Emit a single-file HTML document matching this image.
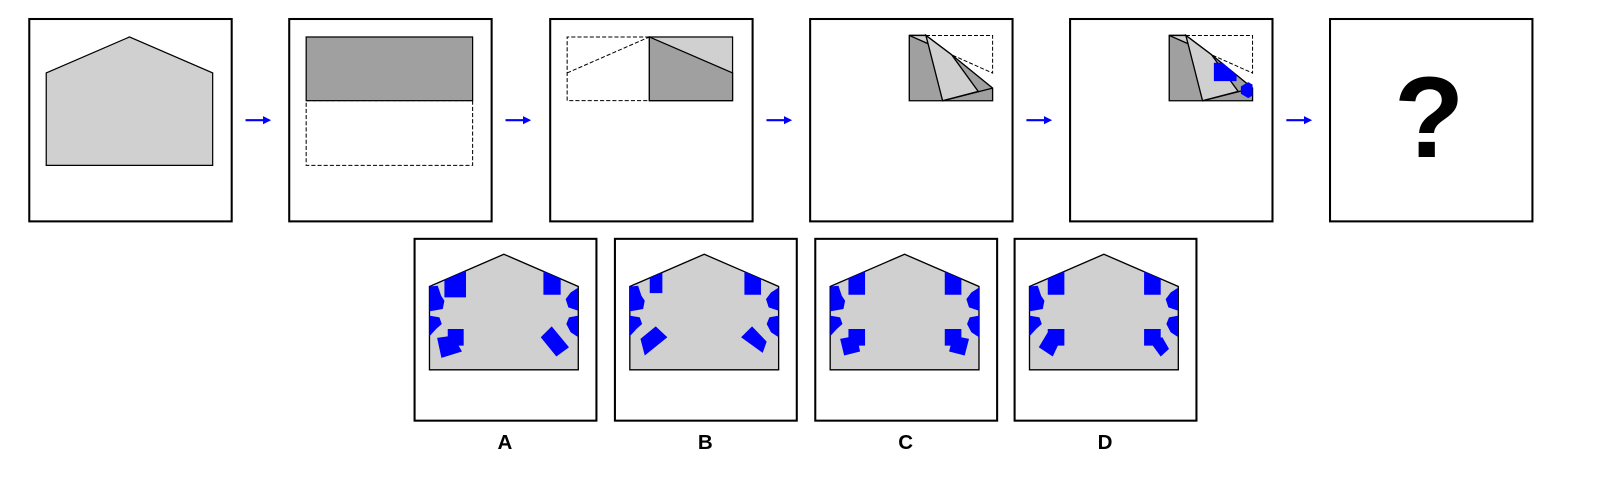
<!DOCTYPE html>
<html><head><meta charset="utf-8"><style>
html,body{margin:0;padding:0;background:#fff;}
svg{display:block;}
text{font-family:"Liberation Sans",Arial,sans-serif;}
</style></head><body>
<svg id="chart" width="1610" height="490" viewBox="0 0 1567 477" preserveAspectRatio="none" xmlns="http://www.w3.org/2000/svg">
<defs>
  <clipPath id="houseClip"><polygon points="0,97 224,0 448,97 448,348 0,348"/></clipPath>
  <clipPath id="lightClip"><polygon points="438,47 515,105 595,215 488,243"/></clipPath>
  <clipPath id="rectClip"><rect x="388" y="47" width="250" height="196"/></clipPath>
  <marker id="ah" markerWidth="8" markerHeight="8" refX="6" refY="4" orient="auto" markerUnits="userSpaceOnUse"><polygon points="0,0 8,4 0,8" fill="#0000ff"/></marker>
</defs>

<!-- Panel 1 -->
<g>
  <rect x="28.5" y="18.5" width="197" height="197" fill="#fff" stroke="#000" stroke-width="2"/>
  <polygon points="45,71 126,36 207,71 207,161 45,161" fill="#d0d0d0" stroke="#000" stroke-width="1.2"/>
</g>
<!-- Panel 2 -->
<g>
  <rect x="281.5" y="18.5" width="197" height="197" fill="#fff" stroke="#000" stroke-width="2"/>
  <rect x="298" y="98" width="162" height="63" fill="none" stroke="#000" stroke-width="1" stroke-dasharray="4,2"/>
  <rect x="298" y="36" width="162" height="62" fill="#a0a0a0" stroke="#000" stroke-width="1.2"/>
</g>
<!-- Panel 3 -->
<g>
  <rect x="535.5" y="18.5" width="197" height="197" fill="#fff" stroke="#000" stroke-width="2"/>
  <polyline points="632,36 552,36 552,98 632,98" fill="none" stroke="#000" stroke-width="1" stroke-dasharray="4,2"/>
  <line x1="552" y1="71" x2="632" y2="36" stroke="#000" stroke-width="1" stroke-dasharray="4,2"/>
  <rect x="632" y="36" width="81" height="62" fill="#d0d0d0" stroke="#000" stroke-width="1.2"/>
  <polygon points="632,36 713,71 713,98 632,98" fill="#a0a0a0" stroke="#000" stroke-width="1.2"/>
</g>
<!-- Panel 4 -->
<g>
  <rect x="788.5" y="18.5" width="197" height="197" fill="#fff" stroke="#000" stroke-width="2"/>
  <g transform="translate(885,34.5) scale(0.3244) translate(-388,-47)">
    <polygon points="388,47 438,47 515,105 638,205 638,243 388,243" fill="#a0a0a0" stroke="#000" stroke-width="4"/>
    <polygon points="388,47 438,47 445,72" fill="#d0d0d0" stroke="#000" stroke-width="4"/>
    <polygon points="438,47 515,105 595,215 488,243" fill="#d0d0d0" stroke="#000" stroke-width="4"/>
    <line x1="488" y1="243" x2="638" y2="205" stroke="#000" stroke-width="4"/>
    <polyline points="438,47 638,47 638,160 515,105" fill="none" stroke="#000" stroke-width="3" stroke-dasharray="12,6"/>
  </g>
</g>
<!-- Panel 5 -->
<g>
  <rect x="1041.5" y="18.5" width="197" height="197" fill="#fff" stroke="#000" stroke-width="2"/>
  <g transform="translate(1138,34.5) scale(0.3244) translate(-388,-47)">
    <polygon points="388,47 438,47 515,105 638,205 638,243 388,243" fill="#a0a0a0" stroke="#000" stroke-width="4"/>
    <polygon points="388,47 438,47 445,72" fill="#d0d0d0" stroke="#000" stroke-width="4"/>
    <polygon points="438,47 515,105 595,215 488,243" fill="#d0d0d0" stroke="#000" stroke-width="4"/>
    <line x1="488" y1="243" x2="638" y2="205" stroke="#000" stroke-width="4"/>
    <polyline points="438,47 638,47 638,160 515,105" fill="none" stroke="#000" stroke-width="3" stroke-dasharray="12,6"/>
    <g clip-path="url(#rectClip)">
      <polygon points="522,129 548,129 590,165 590,184 522,184" fill="#0000ff"/>
      <polygon points="603,200 625,187 647,200 647,222 625,235 603,222" fill="#0000ff"/>
    </g>
  </g>
</g>
<!-- Panel 6 -->
<g>
  <rect x="1294.5" y="18.5" width="197" height="197" fill="#fff" stroke="#000" stroke-width="2"/>
  <text x="1391" y="153" font-size="112" font-weight="bold" text-anchor="middle" fill="#000">?</text>
</g>
<!-- Arrows -->
<g stroke="#0000ff" stroke-width="2">
  <line x1="239" y1="117" x2="262" y2="117" marker-end="url(#ah)"/>
  <line x1="492" y1="117" x2="515" y2="117" marker-end="url(#ah)"/>
  <line x1="746" y1="117" x2="769" y2="117" marker-end="url(#ah)"/>
  <line x1="999" y1="117" x2="1022" y2="117" marker-end="url(#ah)"/>
  <line x1="1252" y1="117" x2="1275" y2="117" marker-end="url(#ah)"/>
</g>

<g id="options"></g>
</svg>
<script>
const optionLabels = ["A","B","C","D"];
const optionX = [403, 598, 793, 987];
// shapes in house-local units (house 448 x 348)
const commonBlobs = [
  "0,97 25,95 35,125 45,140 40,165 0,172",
  "0,185 30,190 37,210 20,225 0,247",
  "448,100 425,115 410,135 418,160 448,170",
  "448,185 420,190 412,210 425,235 448,250"
];
const optionShapes = [
  ["45,40 110,40 110,130 45,130","55,225 103,225 103,275 55,275","23,252 70,245 98,293 36,312","343,40 395,40 395,122 343,122","335,250 368,217 420,280 382,308"],
  ["60,40 98,40 98,117 60,117","32,255 78,217 113,250 45,305","345,40 395,40 395,122 345,122","335,250 368,217 412,263 400,297"],
  ["55,40 105,40 105,122 55,122","55,225 105,225 105,275 55,275","30,255 80,245 90,293 42,305","345,40 395,40 395,122 345,122","345,225 395,225 395,275 345,275","358,293 370,245 418,255 405,305"],
  ["55,40 105,40 105,122 55,122","55,225 105,225 105,275 55,275","28,280 55,235 95,255 70,308","345,40 395,40 395,122 345,122","345,225 395,225 395,275 345,275","360,260 400,250 420,285 395,308"]
];
const NS = "http://www.w3.org/2000/svg";
const root = document.getElementById("options");
optionLabels.forEach((lab, i) => {
  const x0 = optionX[i];
  const g = document.createElementNS(NS, "g");
  
  
  const box = document.createElementNS(NS, "rect");
  box.setAttribute("x", x0 + 0.5); box.setAttribute("y", 232.5);
  box.setAttribute("width", 177); box.setAttribute("height", 177);
  box.setAttribute("fill", "#fff"); box.setAttribute("stroke", "#000"); box.setAttribute("stroke-width", "2");
  
  
  g.appendChild(box);
  const hg = document.createElementNS(NS, "g");
  hg.setAttribute("transform", "translate(" + (x0 + 15) + ",247.5) scale(0.3233)");
  const house = document.createElementNS(NS, "polygon");
  house.setAttribute("points", "0,97 224,0 448,97 448,348 0,348");
  house.setAttribute("fill", "#d0d0d0"); house.setAttribute("stroke", "#000"); house.setAttribute("stroke-width", "4");
  
  
  hg.appendChild(house);
  const cg = document.createElementNS(NS, "g");
  cg.setAttribute("clip-path", "url(#houseClip)");
  commonBlobs.concat(optionShapes[i]).forEach(pts => {
    const p = document.createElementNS(NS, "polygon");
    p.setAttribute("points", pts); p.setAttribute("fill", "#0000ff");
    
    
    cg.appendChild(p);
  });
  hg.appendChild(cg);
  g.appendChild(hg);
  const t = document.createElementNS(NS, "text");
  t.setAttribute("x", x0 + 88.5); t.setAttribute("y", 437);
  t.setAttribute("text-anchor", "middle"); t.setAttribute("font-size", "20"); t.setAttribute("font-weight", "bold");
  t.textContent = lab;
  
  
  g.appendChild(t);
  root.appendChild(g);
});
</script>
</body></html>
